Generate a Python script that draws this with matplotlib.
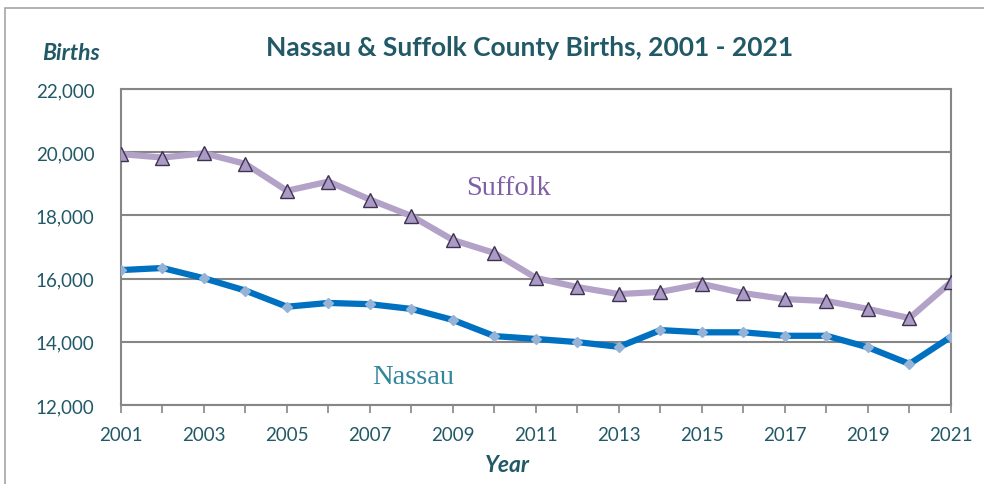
import matplotlib
matplotlib.use("Agg")
import matplotlib.pyplot as plt
from matplotlib.patches import Rectangle
from matplotlib.ticker import FuncFormatter, MultipleLocator

years = list(range(2001, 2022))
suffolk = [19940, 19830, 19965, 19630, 18780, 19070, 18500, 17980, 17220, 16810,
           16020, 15730, 15510, 15580, 15830, 15540, 15350, 15290, 15040, 14750, 15890]
nassau = [16270, 16335, 16010, 15620, 15110, 15230, 15190, 15040, 14690, 14180,
          14090, 13990, 13840, 14370, 14300, 14300, 14190, 14190, 13825, 13300, 14160]
xtick_labels = [str(y) for y in range(2001, 2022, 2)]

plt.rcParams['font.family'] = ['Lato', 'DejaVu Sans']
teal = '#215967'

fig = plt.figure(figsize=(9.84, 4.85), dpi=100)
fig.patches.append(Rectangle((5/984, -0.1), 1.2, 1.1 - 9/485, transform=fig.transFigure,
                             fill=False, edgecolor='#A6A6A6', linewidth=1.2))
ax = fig.add_axes([121/984, 1-406/485, (951-121)/984, (406-90)/485])

ax.plot(years, suffolk, color='#B3A2C7', lw=4.5, zorder=3,
        marker='^', markersize=10, markerfacecolor='#A99BC5', markeredgecolor='#3F3151',
        markeredgewidth=1.0)
ax.plot(years, nassau, color='#0070C0', lw=4.5, zorder=3,
        marker='D', markersize=5.5, markerfacecolor='#95B3D7', markeredgecolor='#95B3D7')

ax.set_xlim(2001, 2021)
ax.set_ylim(12000, 22000)
ax.yaxis.set_major_locator(MultipleLocator(2000))
ax.yaxis.set_major_formatter(FuncFormatter(lambda v, p: f"{int(v):,}"))
ax.set_xticks(list(range(2001, 2022, 2)))
ax.set_xticklabels(xtick_labels)
ax.set_xticks(years, minor=True)
ax.grid(axis='y', color='#868686', lw=1.5, zorder=1)
for s in ax.spines.values():
    s.set_color('#868686')
    s.set_linewidth(1.5)
ax.tick_params(axis='x', which='both', direction='out', length=6, color='#868686',
               width=1.2, labelsize=13.5, labelcolor=teal, pad=9)
ax.tick_params(axis='y', length=0, labelsize=13.5, labelcolor=teal, pad=19)

fig.text(530/984, 1-48/485, 'Nassau & Suffolk County Births, 2001 - 2021', ha='center', va='center',
         fontsize=19, fontweight='bold', color=teal)
fig.text(71/984, 1-53/485, 'Births', ha='center', va='center', fontsize=16.5,
         fontweight='bold', style='italic', color=teal)
fig.text(507/984, 1-466/485, 'Year', ha='center', va='center', fontsize=16.5,
         fontweight='bold', style='italic', color=teal)
ax.text(2010.33, 18870, 'Suffolk', ha='center', va='center', fontsize=20.5,
        family=['Liberation Serif', 'DejaVu Serif'], color='#7F5FA6')
ax.text(2008.05, 12890, 'Nassau', ha='center', va='center', fontsize=20.5,
        family=['Liberation Serif', 'DejaVu Serif'], color='#31859C')

fig.savefig('out.png', dpi=100)
